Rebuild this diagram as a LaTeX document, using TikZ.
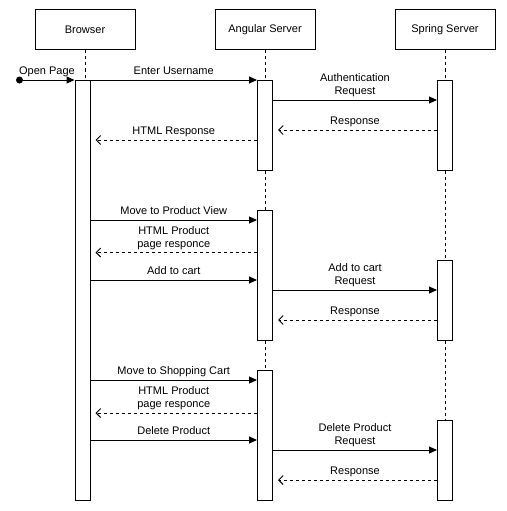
\documentclass[tikz,border=0pt]{standalone}
\usepackage{fontspec}
\setmainfont{Liberation Sans}
\usetikzlibrary{arrows.meta}
\begin{document}
\begin{tikzpicture}[x=1pt,y=-1pt,line width=1pt,
  txt/.style={font=\fontsize{11}{13}\selectfont},
  hdr/.style={txt, draw, minimum width=100pt, minimum height=40pt, inner sep=0pt},
  act/.style={draw, fill=white, minimum width=15pt, inner sep=0pt},
  life/.style={dash pattern=on 3pt off 3pt},
  msg/.style={-{Triangle[length=8pt,width=7pt]}},
  ret/.style={dash pattern=on 3pt off 3pt, -{Straight Barb[length=4.5pt,width=9pt]}, shorten >=5pt},
  lab/.style={txt, align=center, inner sep=0pt, anchor=south, yshift=1.1pt}
]
\useasboundingbox[fill=white] (0,0) rectangle (506,511);

% headers
\node[hdr] (browser) at (85,30) {Browser};
\node[hdr] (angular) at (265,30) {Angular Server};
\node[hdr] (spring) at (445,30) {Spring Server};

% activations
\node[act, minimum height=420pt] (brAct) at (82.5,290) {};
\node[act, minimum height=90pt] (ang1) at (265,125) {};
\node[act, minimum height=130pt] (ang2) at (265,275) {};
\node[act, minimum height=130pt] (ang3) at (265,435) {};
\node[act, minimum height=90pt] (spr1) at (445,125) {};
\node[act, minimum height=80pt] (spr2) at (445,300) {};
\node[act, minimum height=80pt] (spr3) at (445,460) {};

% lifelines
\draw[life] (browser.south) -- (browser.south |- brAct.north);
\draw[life] (angular.south) -- (ang1.north);
\draw[life] (ang1.south) -- (ang2.north);
\draw[life] (ang2.south) -- (ang3.north);
\draw[life] (spring.south) -- (spr1.north);
\draw[life] (spr1.south) -- (spr2.north);
\draw[life] (spr2.south) -- (spr3.north);

% start
\coordinate (start) at (19.5,80);
\fill (start) circle (3.5pt);
\draw[msg] (start) -- node[lab] {\strut Open Page} (brAct.west |- start);

% section 1
\draw[msg] (brAct.east |- 0,80) -- node[lab] {\strut Enter Username} (ang1.west |- 0,80);
\draw[msg] (ang1.east |- 0,100) -- node[lab] {\strut Authentication\\\strut Request} (spr1.west |- 0,100);
\draw[ret] (spr1.west |- 0,130) -- node[lab] {\strut Response} (ang1.east |- 0,130);
\draw[ret] (ang1.west |- 0,140) -- node[lab] {\strut HTML Response} (brAct.east |- 0,140);

% section 2
\draw[msg] (brAct.east |- 0,220) -- node[lab] {\strut Move to Product View} (ang2.west |- 0,220);
\draw[ret] (ang2.west |- 0,252.5) -- node[lab] {\strut HTML Product\\\strut page responce} (brAct.east |- 0,252.5);
\draw[msg] (brAct.east |- 0,280) -- node[lab] {\strut Add to cart} (ang2.west |- 0,280);
\draw[msg] (ang2.east |- 0,290) -- node[lab] {\strut Add to cart\\\strut Request} (spr2.west |- 0,290);
\draw[ret] (spr2.west |- 0,320) -- node[lab] {\strut Response} (ang2.east |- 0,320);

% section 3
\draw[msg] (brAct.east |- 0,380) -- node[lab] {\strut Move to Shopping Cart} (ang3.west |- 0,380);
\draw[ret] (ang3.west |- 0,413) -- node[lab] {\strut HTML Product\\\strut page responce} (brAct.east |- 0,413);
\draw[msg] (brAct.east |- 0,440) -- node[lab] {\strut Delete Product} (ang3.west |- 0,440);
\draw[msg] (ang3.east |- 0,450) -- node[lab] {\strut Delete Product\\\strut Request} (spr3.west |- 0,450);
\draw[ret] (spr3.west |- 0,480) -- node[lab] {\strut Response} (ang3.east |- 0,480);
\end{tikzpicture}
\end{document}
